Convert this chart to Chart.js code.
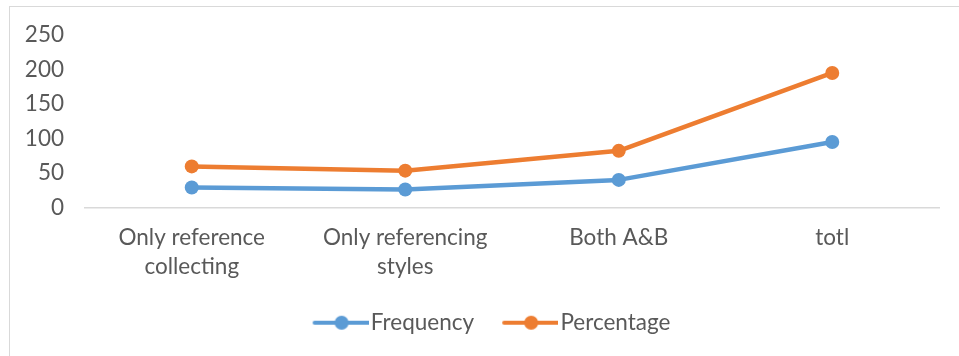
<!DOCTYPE html>
<html>
<head>
<meta charset="utf-8">
<script src="https://cdn.jsdelivr.net/npm/chart.js@4.4.1/dist/chart.umd.min.js"></script>
<style>
  html, body { margin: 0; padding: 0; background: #ffffff; overflow: hidden; }
  #frame { position: absolute; left: 9px; top: 6px; width: 1000px; height: 400px;
           border: 1px solid #d9d9d9; box-sizing: border-box; }
  #wrap { position: absolute; left: 0; top: 0; width: 959px; height: 356px; }
</style>
</head>
<body>
<div id="frame"></div>
<div id="wrap"><canvas id="chart" width="959" height="356"></canvas></div>
<script>
// Survey categories and counts; Percentage is plotted stacked on Frequency
const categories = [["Only reference", "collecting"], ["Only referencing", "styles"], "Both A&B", "totl"];
const frequency = [29, 26, 40, 95];
const percentage = [30.53, 27.37, 42.11, 100];
const yTicks = [0, 50, 100, 150, 200, 250];

const BLUE = '#5B9BD5';
const ORANGE = '#ED7D31';
const TEXT = '#595959';
const FONT = "Lato, 'Open Sans', sans-serif";
const FONT_SIZE = 22.5;

// Legend symbol: a short line with a dot in the middle (transparent lead-in gives item spacing)
function legendSymbol(color) {
  const c = document.createElement('canvas');
  c.width = 85; c.height = 18;
  const g = c.getContext('2d');
  g.strokeStyle = color;
  g.lineWidth = 4;
  g.lineCap = 'round';
  g.beginPath(); g.moveTo(31, 9); g.lineTo(85, 9); g.stroke();
  g.fillStyle = color;
  g.beginPath(); g.arc(58, 9, 7, 0, Math.PI * 2); g.fill();
  return c;
}
const symbols = { Frequency: legendSymbol(BLUE), Percentage: legendSymbol(ORANGE) };

// Nudge the legend row to the right of the centre line
const legendShift = {
  id: 'legendShift',
  afterLayout(chart) {
    if (chart.legend) { chart.legend.left += 12; chart.legend.right += 12; }
  }
};

new Chart(document.getElementById('chart'), {
  type: 'line',
  data: {
    labels: categories,
    datasets: [
      { label: 'Frequency', data: frequency, borderColor: BLUE, backgroundColor: BLUE,
        pointBackgroundColor: BLUE, pointBorderColor: BLUE },
      { label: 'Percentage', data: percentage, borderColor: ORANGE, backgroundColor: ORANGE,
        pointBackgroundColor: ORANGE, pointBorderColor: ORANGE }
    ]
  },
  plugins: [legendShift],
  options: {
    responsive: false,
    animation: false,
    devicePixelRatio: 1,
    layout: { padding: { left: 0, right: 20, top: 35, bottom: 12 } },
    elements: {
      line: { borderWidth: 4.5, tension: 0, borderCapStyle: 'round', borderJoinStyle: 'round' },
      point: { radius: 7, borderWidth: 0, hoverRadius: 7 }
    },
    scales: {
      x: {
        offset: true,
        grid: { display: false },
        border: { display: true, color: '#d9d9d9', width: 1.5 },
        ticks: {
          color: TEXT, padding: 8, maxRotation: 0, autoSkip: false,
          font: { family: FONT, size: FONT_SIZE, lineHeight: 1.28 }
        },
        afterFit: s => { s.height = 96; }
      },
      y: {
        stacked: true,
        min: 0, max: 250,
        grid: { display: false },
        border: { display: false },
        afterBuildTicks: s => { s.ticks = yTicks.map(v => ({ value: v })); },
        ticks: { color: TEXT, padding: 13, autoSkip: false, stepSize: 50,
                 font: { family: FONT, size: FONT_SIZE } },
        afterFit: s => { s.width = 85; }
      }
    },
    plugins: {
      tooltip: { enabled: false },
      legend: {
        position: 'bottom',
        labels: {
          color: TEXT,
          padding: 8,
          usePointStyle: true,
          pointStyleWidth: 67,
          font: { family: FONT, size: FONT_SIZE },
          generateLabels: chart => chart.data.datasets.map((ds, i) => ({
            text: ds.label,
            fillStyle: ds.borderColor,
            strokeStyle: ds.borderColor,
            fontColor: TEXT,
            lineWidth: 0,
            pointStyle: symbols[ds.label],
            datasetIndex: i,
            hidden: false
          }))
        }
      }
    }
  }
});
</script>
</body>
</html>
